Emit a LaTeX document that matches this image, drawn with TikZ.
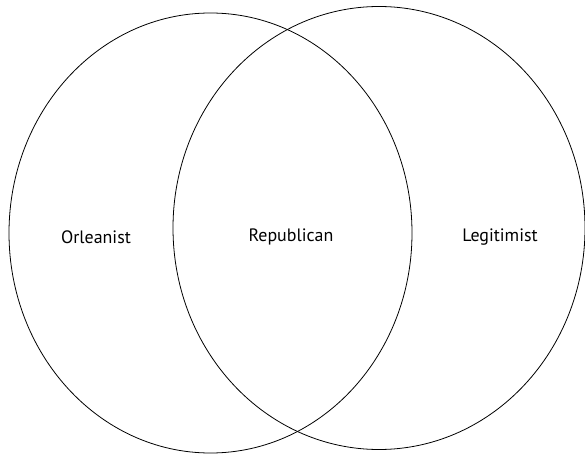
\documentclass[tikz,border=0pt]{standalone}
\usepackage{fontspec}
\setmainfont{PT Sans}
\usetikzlibrary{shapes.geometric}

\begin{document}
\begin{tikzpicture}[
x=1bp, y=-1bp,
setnode/.style={ellipse, draw, line width=.8pt, inner sep=0pt},
labelnode/.style={font=\fontsize{18}{21}\selectfont},
]
\useasboundingbox (0,0) rectangle (585,456);
%Nodes
\node[setnode, minimum width=403bp, minimum height=440bp] (orl) at (210.5,233) {};
\node[setnode, minimum width=412bp, minimum height=443bp] (leg) at (379,228) {};

\node[labelnode] (a) at (96,237)  {Orleanist};
\node[labelnode] (b) at (291,237) {Republican};
\node[labelnode] (c) at (500,237) {Legitimist};

\end{tikzpicture}
\end{document}
